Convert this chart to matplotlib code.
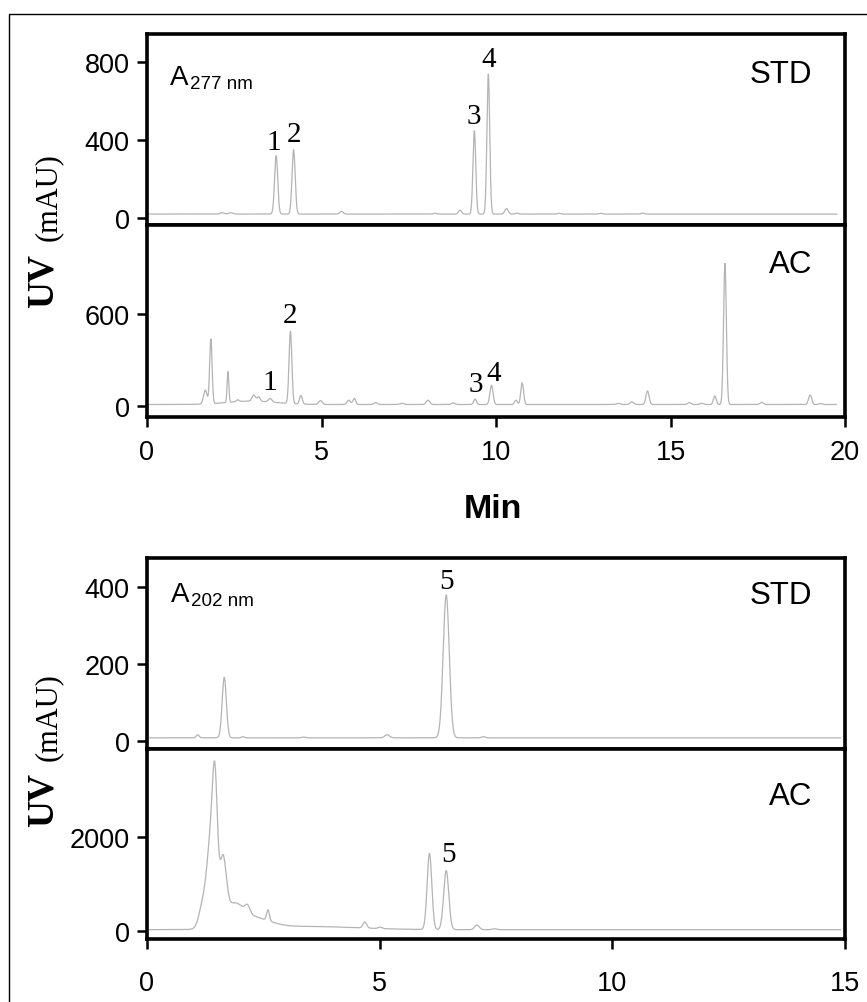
import numpy as np
import matplotlib
matplotlib.use("Agg")
import matplotlib.pyplot as plt
from matplotlib.patches import Rectangle

# ---------------- data (peak tables) ----------------
# Panel A277 - standard mixture: baseline, peak retention times (min), heights above baseline (mAU), widths (sigma, min)
std277_base = 20
std277_t = [2.15, 2.40, 3.70, 4.20, 5.57, 8.25, 8.97, 9.38, 9.78, 10.30, 10.60, 11.80, 13.00, 14.20]
std277_h = [7, 7, 300, 330, 14, 4, 20, 428, 718, 28, 5, 4, 4, 5]
std277_s = [0.05, 0.06, 0.045, 0.045, 0.05, 0.05, 0.045, 0.04, 0.04, 0.05, 0.05, 0.05, 0.05, 0.05]

# Panel A277 - AC extract
ac277_base = 10
ac277_t = [1.67, 1.83, 2.32, 3.00, 2.60, 3.06, 3.20, 3.53, 4.11, 4.41, 4.97, 5.78, 5.94, 6.55,
           7.30, 8.05, 8.77, 9.40, 9.87, 10.57, 10.75, 13.50, 13.89, 14.34, 15.54, 15.90,
           16.27, 16.56, 17.61, 19.00, 19.30]
ac277_h = [90, 420, 200, 22, 12, 40, 28, 22, 470, 55, 25, 28, 40, 12,
           8, 28, 10, 36, 125, 28, 140, 8, 18, 88, 12, 8,
           55, 915, 14, 62, 6]
ac277_s = [0.05, 0.035, 0.025, 0.7, 0.04, 0.05, 0.04, 0.05, 0.04, 0.04, 0.05, 0.05, 0.04, 0.05,
           0.05, 0.05, 0.05, 0.04, 0.045, 0.04, 0.04, 0.05, 0.05, 0.045, 0.05, 0.05,
           0.04, 0.04, 0.05, 0.045, 0.05]

# Panel A202 - standard
std202_base = 8
std202_t = [1.09, 1.66, 2.06, 3.37, 5.16, 6.43, 7.23]
std202_h = [8, 157, 3, 2, 8, 371, 3]
std202_s = [0.03, 0.045, 0.03, 0.04, 0.05, 0.065, 0.04]

# Panel A202 - AC extract
ac202_base = 28
ac202_t = [1.22, 1.36, 1.46, 1.63, 1.85, 2.16, 2.30, 2.60, 3.40, 4.68, 5.01, 6.07, 6.43, 7.09, 7.47]
ac202_h = [600, 1500, 2800, 1250, 450, 150, 200, 230, 70, 130, 30, 1620, 1256, 100, 20]
ac202_s = [0.09, 0.07, 0.055, 0.07, 0.22, 0.05, 0.35, 0.03, 1.1, 0.04, 0.04, 0.05, 0.055, 0.05, 0.05]

# peak labels
std277_lab = ['1', '2', '3', '4']
std277_lab_t = [3.63, 4.20, 9.36, 9.80]
std277_lab_y = [390, 431, 525, 815]
ac277_lab = ['1', '2', '3', '4']
ac277_lab_t = [3.51, 4.09, 9.41, 9.93]
ac277_lab_y = [153, 593, 142, 217]
std202_lab = ['5']
std202_lab_t = [6.43]
std202_lab_y = [416]
ac202_lab = ['5']
ac202_lab_t = [6.47]
ac202_lab_y = [1639]

top_xticks = [0, 5, 10, 15, 20]
bot_xticks = [0, 5, 10, 15]
yticks_std277 = [0, 400, 800]
yticks_ac277 = [0, 600]
yticks_std202 = [0, 200, 400]
yticks_ac202 = [0, 2000]


def chrom(t, base, centers, heights, sigmas):
    y = np.full_like(t, float(base))
    for c, h, s in zip(centers, heights, sigmas):
        y += h * np.exp(-0.5 * ((t - c) / s) ** 2)
    return y


# ---------------- figure ----------------
W, H = 867, 1003
fig = plt.figure(figsize=(W / 100, H / 100), dpi=100)

SANS = 'Liberation Sans'
SERIF = 'Liberation Serif'
LINE_C = '#b4b4b4'
SPINE_W = 2.6
TICK_FS = 19.5
LAB_FS = 21
TAG_FS = 22.5


def ax_at(px_top, px_bot):
    left = 147 / W
    width = 698 / W
    bottom = 1 - px_bot / H
    height = (px_bot - px_top) / H
    return fig.add_axes([left, bottom, width, height])


def style(ax, yticks, xticks=None, xpad=8.5):
    for sp in ax.spines.values():
        sp.set_linewidth(SPINE_W)
    ax.set_yticks(yticks)
    ax.tick_params(axis='y', direction='out', length=7.5, width=1.8, pad=5,
                   labelsize=TICK_FS)
    for lab in ax.get_yticklabels():
        lab.set_family(SANS)
    if xticks is None:
        ax.set_xticks([])
    else:
        ax.set_xticks(xticks)
        ax.tick_params(axis='x', direction='out', length=7.5, width=1.8, pad=xpad,
                       labelsize=TICK_FS)
        for lab in ax.get_xticklabels():
            lab.set_family(SANS)


# Panel 1: A277 STD
ax1 = ax_at(35, 226)
t1 = np.linspace(0.05, 19.77, 6000)
ax1.plot(t1, chrom(t1, std277_base, std277_t, std277_h, std277_s), color=LINE_C, lw=0.9)
ax1.set_xlim(0, 20)
ax1.set_ylim(-36, 944)
style(ax1, yticks_std277)
for s, tx, ty in zip(std277_lab, std277_lab_t, std277_lab_y):
    ax1.text(tx, ty, s, family=SERIF, fontsize=LAB_FS, ha='center', va='center')
ax1.text(0.0330, 0.738, 'A', transform=ax1.transAxes, family=SANS, fontsize=20, va='baseline')
ax1.text(0.0615, 0.718, '277 nm', transform=ax1.transAxes, family=SANS, fontsize=13.5, va='baseline')
ax1.text(0.953, 0.749, 'STD', transform=ax1.transAxes, family=SANS, fontsize=TAG_FS, ha='right', va='baseline')

# Panel 2: A277 AC
ax2 = ax_at(226, 418)
t2 = np.linspace(0.0, 19.75, 6000)
ax2.plot(t2, chrom(t2, ac277_base, ac277_t, ac277_h, ac277_s), color=LINE_C, lw=0.9)
ax2.set_xlim(0, 20)
ax2.set_ylim(-71, 1174)
style(ax2, yticks_ac277, top_xticks, xpad=8)
for s, tx, ty in zip(ac277_lab, ac277_lab_t, ac277_lab_y):
    ax2.text(tx, ty, s, family=SERIF, fontsize=LAB_FS, ha='center', va='center')
ax2.text(0.953, 0.755, 'AC', transform=ax2.transAxes, family=SANS, fontsize=TAG_FS, ha='right', va='baseline')

# Panel 3: A202 STD
ax3 = ax_at(559, 750)
t3 = np.linspace(0.05, 14.9, 6000)
ax3.plot(t3, chrom(t3, std202_base, std202_t, std202_h, std202_s), color=LINE_C, lw=0.9)
ax3.set_xlim(0, 15)
ax3.set_ylim(-21, 475)
style(ax3, yticks_std202)
for s, tx, ty in zip(std202_lab, std202_lab_t, std202_lab_y):
    ax3.text(tx, ty, s, family=SERIF, fontsize=LAB_FS, ha='center', va='center')
ax3.text(0.0345, 0.775, 'A', transform=ax3.transAxes, family=SANS, fontsize=20, va='baseline')
ax3.text(0.0630, 0.752, '202 nm', transform=ax3.transAxes, family=SANS, fontsize=13.5, va='baseline')
ax3.text(0.953, 0.764, 'STD', transform=ax3.transAxes, family=SANS, fontsize=TAG_FS, ha='right', va='baseline')

# Panel 4: A202 AC
ax4 = ax_at(750, 940)
t4 = np.linspace(0.0, 14.9, 6000)
ax4.plot(t4, chrom(t4, ac202_base, ac202_t, ac202_h, ac202_s), color=LINE_C, lw=0.9)
ax4.set_xlim(0, 15)
ax4.set_ylim(-170, 3872)
style(ax4, yticks_ac202, bot_xticks, xpad=15)
for s, tx, ty in zip(ac202_lab, ac202_lab_t, ac202_lab_y):
    ax4.text(tx, ty, s, family=SERIF, fontsize=LAB_FS, ha='center', va='center')
ax4.text(0.953, 0.71, 'AC', transform=ax4.transAxes, family=SANS, fontsize=TAG_FS, ha='right', va='baseline')

# axis titles
fig.text(493 / W, 1 - 518 / H, 'Min', family=SANS, fontweight='bold', fontsize=24.5,
         ha='center', va='baseline')


def ylabel(cy_uv, cy_mau):
    fig.text(53 / W, 1 - cy_uv / H, 'UV', family=SERIF, fontweight='bold', fontsize=27,
             rotation=90, rotation_mode='anchor', ha='center', va='baseline')
    fig.text(56 / W, 1 - cy_mau / H, '(mAU)', family=SERIF, fontsize=22,
             rotation=90, rotation_mode='anchor', ha='center', va='baseline')


ylabel(281, 197)
ylabel(800, 717)

# outer frame
fig.patches.append(Rectangle((8.5 / W, -0.05), 1.2, 1 - 15 / H + 0.05, transform=fig.transFigure,
                             fill=False, edgecolor='black', lw=1.0))

fig.savefig('out.png', dpi=100)
